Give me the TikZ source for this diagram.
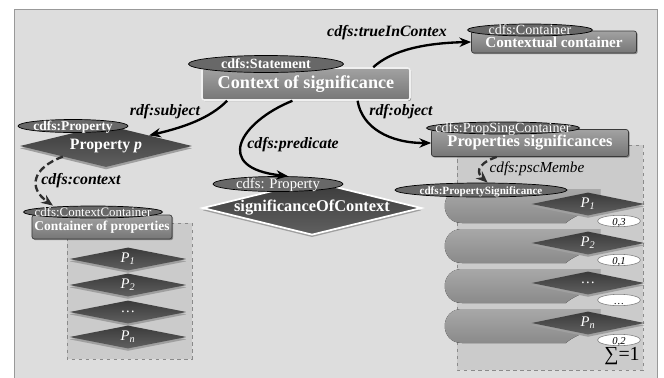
\documentclass[tikz,border=0pt]{standalone}
\usepackage{fontspec}
\setmainfont{Liberation Serif}
\usetikzlibrary{arrows.meta, positioning, shapes.geometric, shadows}

\definecolor{bgfill}{HTML}{DDDDDD}
\definecolor{regfill}{HTML}{CBCBCB}
\definecolor{regline}{HTML}{8A8A8A}
\definecolor{boxtop}{HTML}{A2A2A2}
\definecolor{boxbot}{HTML}{767676}
\definecolor{boxline}{HTML}{3A3A3A}
\definecolor{tagfill}{HTML}{686868}
\definecolor{diamtop}{HTML}{3A3A3A}
\definecolor{diambot}{HTML}{606060}
\definecolor{tongtop}{HTML}{A8A8A8}
\definecolor{tongbot}{HTML}{8A8A8A}
\definecolor{dashcol}{HTML}{2E2E2E}

\begin{document}
\begin{tikzpicture}[x=0.3mm, y=-0.3mm,
    flat/.style={inner sep=0pt, text height=1.5ex, text depth=0pt,
        execute at begin node={\hbox to 0pt\bgroup\hss},
        execute at end node={\hss\egroup}},
    cls/.style={flat, ellipse, draw=black, line width=0.6pt, fill=tagfill, text=white},
    inst/.style={rectangle, rounded corners=2pt, draw=boxline, line width=0.6pt,
        top color=boxtop, bottom color=boxbot, text=white, inner sep=0pt,
        drop shadow={shadow xshift=1pt, shadow yshift=-1pt, fill=black, opacity=0.35}},
    prop/.style={diamond, top color=diamtop, bottom color=diambot, text=white, inner sep=0pt,
        drop shadow={shadow xshift=0pt, shadow yshift=-2pt, fill=gray!75, opacity=1}},
    val/.style={flat, ellipse, draw=gray, line width=0.5pt, fill=white,
        minimum width=12.9mm, minimum height=3mm, font=\fontsize{9}{9}\selectfont\itshape},
    rel/.style={line width=2pt, -{Stealth[length=10pt, width=8pt]}},
    mem/.style={rel, draw=dashcol, dash pattern=on 6pt off 3pt},
    rlab/.style={font=\fontsize{13.5}{14}\selectfont\bfseries\itshape},
    region/.style={draw=regline, dashed, fill=regfill, line width=0.8pt},
    tongue/.style={top color=tongtop, bottom color=tongbot},
]
    \useasboundingbox (0,0) rectangle (664,377);
    % Draw the frame and the two containers
    \fill[white] (0,0) rectangle (664,377);
    \draw[draw=gray!80, fill=bgfill] (14,9) rectangle (657,390);
    \draw[region] (67,223) rectangle (192,359);
    \draw[region] (457,145) rectangle (643,370);

    % Draw the property significance rows
    \foreach \t in {189,229,269,309}
        \fill[tongue] (462,\t) -- (600,\t) -- (600,\t+18) .. controls (582,\t+24) and (571,\t+29) .. (566,\t+34)
            -- (462,\t+34) .. controls (439,\t+34) and (439,\t) .. (462,\t) -- cycle;

    % Statement
    \node[inst, minimum width=62.4mm, minimum height=9.6mm, draw=white!88!gray, line width=1.3pt,
        font=\fontsize{15.5}{17}\selectfont\bfseries] (stbox) at (306,84) {Context of significance};
    \node[cls, minimum width=46.5mm, minimum height=5.1mm,
        font=\fontsize{12}{13}\selectfont\bfseries] (stcls) at (266,64) {cdfs:Statement};

    % Contextual container
    \node[inst, minimum width=49.5mm, minimum height=6.6mm,
        font=\fontsize{13}{14}\selectfont\bfseries] (cbox) at (554,42) {Contextual container};
    \node[cls, minimum width=37.5mm, minimum height=3.6mm,
        font=\fontsize{12}{12}\selectfont] (ccls) at (530,30) {cdfs:Container};

    % Property p
    \node[prop, minimum width=51.6mm, minimum height=12.6mm, shape aspect=4.1,
        font=\fontsize{13.5}{14}\selectfont\bfseries] (pdiam) at (106,146) {Property \textit{p}};
    \node[cls, minimum width=33mm, minimum height=3.9mm,
        font=\fontsize{11.5}{12}\selectfont\bfseries] (pcls) at (73,126) {cdfs:Property};

    % Container of properties
    \node[inst, minimum width=42mm, minimum height=7.2mm,
        font=\fontsize{11.5}{12}\selectfont\bfseries] (cpbox) at (102,227) {Container of properties};
    \node[cls, minimum width=41.7mm, minimum height=3.6mm,
        font=\fontsize{11}{11}\selectfont] (cpcls) at (93,212) {cdfs:ContextContainer};
    \foreach \y/\lab [count=\i] in {259/\textit{P}\textsubscript{\textit{1}}, 285/\textit{P}\textsubscript{\textit{2}},
            312/\dots, 337/\textit{P}\textsubscript{\textit{n}}}
        \node[prop, minimum width=35.1mm, minimum height=6.9mm, shape aspect=5,
            font=\fontsize{12.5}{12}\selectfont] (lp\i) at (128,\y) {\lab};

    % significanceOfContext
    \node[prop, minimum width=65.7mm, minimum height=16.2mm, shape aspect=4.06, draw=white, line width=1.5pt,
        font=\fontsize{14}{14}\selectfont\bfseries] (sdiam) at (312,208) {significanceOfContext};
    \node[cls, minimum width=39mm, minimum height=4.5mm,
        font=\fontsize{12.5}{12}\selectfont] (scls) at (278,184) {cdfs: Property};

    % Properties significances
    \node[inst, minimum width=59.1mm, minimum height=8.1mm,
        font=\fontsize{14}{14}\selectfont\bfseries] (psbox) at (530,143) {Properties significances};
    \node[cls, minimum width=45.9mm, minimum height=3.6mm,
        font=\fontsize{12}{12}\selectfont] (pscls) at (503,128) {cdfs:PropSingContainer};
    \node[cls, minimum width=51.6mm, minimum height=4.2mm,
        font=\fontsize{9.5}{10}\selectfont\bfseries] (sigcls) at (481,190) {cdfs:PropertySignificance};
    \foreach \y/\lab/\num [count=\i] in {204/\textit{P}\textsubscript{\textit{1}}/{0,3}, 243/\textit{P}\textsubscript{\textit{2}}/{0,1},
            283/\dots/\dots, 323/\textit{P}\textsubscript{\textit{n}}/{0,2}} {
        \node[prop, minimum width=33.9mm, minimum height=6.9mm, shape aspect=4.7,
            font=\fontsize{12.5}{12}\selectfont] (rp\i) at (588,\y) {\lab};
        \node[val] (rv\i) at (619,\y+17) {\num};
    }
    \node[font=\fontsize{17}{17}\selectfont] (sum) at (622,356) {∑=1};

    % Draw the relations
    \draw[rel] (stbox.14) .. controls (392,50) and (425,43) .. (cbox.west);
    \draw[rel] (stbox.192) .. controls (210,118) and (185,127) .. (pdiam.north east);
    \draw[rel] (stbox.231) .. controls (240,122) and (212,168) .. ([xshift=3mm]scls.north);
    \draw[rel] (stbox.-18) .. controls (362,128) and (390,143) .. (psbox.west);
    \draw[mem] (pdiam.south west) .. controls (32,168) and (28,188) .. ([xshift=-12mm]cpcls.north);
    \draw[mem] ([xshift=-10mm]psbox.south) .. controls (474,165) and (478,174) .. ([xshift=2mm]sigcls.north);

    \node[rlab] (ltrue) at (387,33) {cdfs:trueInContex};
    \node[rlab] (lsubj) at (165,112) {rdf:subject};
    \node[rlab] (lpred) at (293,145) {cdfs:predicate};
    \node[rlab] (lobj) at (401,112) {rdf:object};
    \node[rlab] (lctx) at (81,181) {cdfs:context};
    \node[rlab, font=\fontsize{13}{14}\selectfont\itshape] (lmem) at (537,169) {cdfs:pscMembe};
\end{tikzpicture}
\end{document}
